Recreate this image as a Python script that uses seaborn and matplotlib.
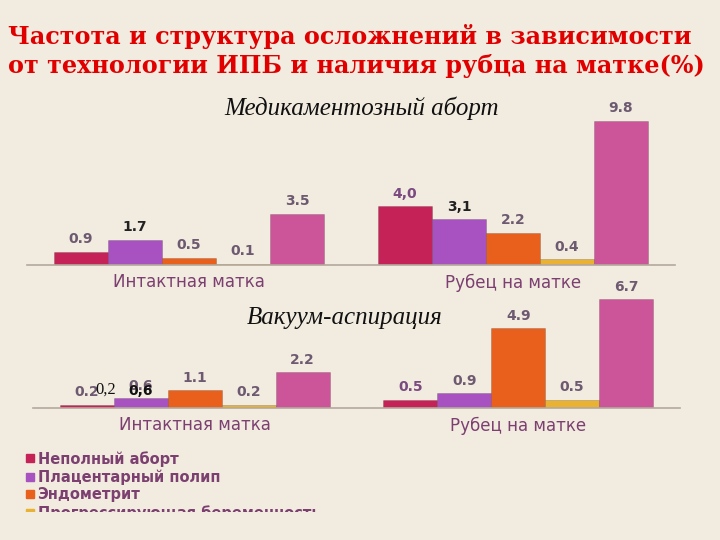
import numpy as np
import pandas as pd
import matplotlib
matplotlib.use("Agg")
import matplotlib.pyplot as plt
import seaborn as sns
from matplotlib.patches import Rectangle

# Data
groups = ["Интактная матка", "Рубец на матке"]
series = ["Неполный аборт", "Плацентарный полип", "Эндометрит",
          "Прогрессирующая беременность", "Всего осложнений"]
med_values = [[0.9, 1.7, 0.5, 0.1, 3.5],
              [4.0, 3.1, 2.2, 0.4, 9.8]]
vac_values = [[0.2, 0.6, 1.1, 0.2, 2.2],
              [0.5, 0.9, 4.9, 0.5, 6.7]]
med_labels = [["0.9", "1.7", "0.5", "0.1", "3.5"],
              ["4,0", "3,1", "2.2", "0.4", "9.8"]]
vac_labels = [["0.2", "0.6", "1.1", "0.2", "2.2"],
              ["0.5", "0.9", "4.9", "0.5", "6.7"]]

palette = ["#c52358", "#a752c0", "#e8601c", "#e9b232", "#cc5499"]
bg = "#f2ebe0"
label_col = "#6e5a70"
cat_col = "#7b3f70"


def long_df(values):
    rows = []
    for g, vals in zip(groups, values):
        for s, v in zip(series, vals):
            rows.append({"group": g, "series": s, "value": v})
    return pd.DataFrame(rows)


sns.set_theme(style="white")
plt.rcParams["font.family"] = ["DejaVu Sans"]

fig = plt.figure(figsize=(7.2, 5.4), dpi=100)
fig.patch.set_facecolor(bg)

ax1 = fig.add_axes([27 / 720, (540 - 265) / 540, 648 / 720, 161.7 / 540])
ax2 = fig.add_axes([33 / 720, (540 - 408) / 540, 647 / 720, 130 / 540])


def draw(ax, values, labels, ymax, dark=()):
    df = long_df(values)
    sns.barplot(data=df, x="group", y="value", hue="series", hue_order=series,
                palette=palette, width=5 / 6, gap=0, legend=False, ax=ax,
                saturation=1, edgecolor="#00000030", linewidth=0.6)
    ax.patch.set_visible(False)
    ax.set_ylim(0, ymax)
    ax.set_xlim(-0.5, 1.5)
    ax.set_xlabel("")
    ax.set_ylabel("")
    ax.set_yticks([])
    for side in ["top", "left", "right"]:
        ax.spines[side].set_visible(False)
    ax.spines["bottom"].set_color("#b3aa9c")
    ax.spines["bottom"].set_linewidth(1.2)
    ax.tick_params(axis="x", length=0, pad=6, labelsize=12, labelcolor=cat_col)
    for j, cont in enumerate(ax.containers):
        for i, bar in enumerate(cont):
            x = bar.get_x() + bar.get_width() / 2
            h = bar.get_height()
            col = "#222222" if (i, j) in dark else label_col
            if (i, j) == (1, 0):
                col = "#7a4a80"
            ax.annotate(labels[i][j], (x, h), xytext=(0, 4),
                        textcoords="offset points", ha="center", va="bottom",
                        fontsize=10, fontweight="bold", color=col)


draw(ax1, med_values, med_labels, 11, dark={(0, 1), (1, 1)})
draw(ax2, vac_values, vac_labels, 8)

# stray overlapping labels seen in the lower chart
b0 = ax2.containers[0][0]
ax2.annotate("0,2", (b0.get_x() + b0.get_width() * 0.85, b0.get_height()),
             xytext=(0, 5), textcoords="offset points", ha="center", va="bottom",
             fontsize=12, color="#111111", family="Liberation Serif")
b1 = ax2.containers[1][0]
ax2.annotate("0,6", (b1.get_x() + b1.get_width() / 2, b1.get_height()),
             xytext=(0, 0), textcoords="offset points", ha="center", va="bottom",
             fontsize=10, fontweight="bold", color="#111111")

# titles
fig.text(0.011, 1 - 51 / 540, "Частота и структура осложнений в зависимости\n"
         "от технологии ИПБ и наличия рубца на матке(%)",
         ha="left", va="center", fontsize=17.2, fontweight="bold",
         color="#e00000", family="DejaVu Serif", linespacing=1.3)
fig.text(362 / 720, 1 - 108 / 540, "Медикаментозный аборт", ha="center",
         va="center", fontsize=18, style="italic", color="#111111",
         family="Liberation Serif")
fig.text(345 / 720, 1 - 318 / 540, "Вакуум-аспирация", ha="center",
         va="center", fontsize=18, style="italic", color="#111111",
         family="Liberation Serif")

# legend, cut at the bottom as in the reference
handles = [plt.Line2D([], [], marker="s", linestyle="", color=c, markersize=6)
           for c in palette]
leg = fig.legend(handles, series, loc="upper left",
                 bbox_to_anchor=(20 / 720, 1 - 445 / 540), frameon=False,
                 handlelength=0.6, handletextpad=0.2, labelspacing=0.18,
                 borderaxespad=0, prop={"size": 10.5, "weight": "bold"})
for t in leg.get_texts():
    t.set_color(cat_col)
leg.set_zorder(5)
fig.patches.append(Rectangle((0, 0), 1, (540 - 512) / 540,
                             transform=fig.transFigure, facecolor=bg,
                             edgecolor="none", zorder=10))

fig.savefig("out.png", dpi=100, facecolor=bg)
